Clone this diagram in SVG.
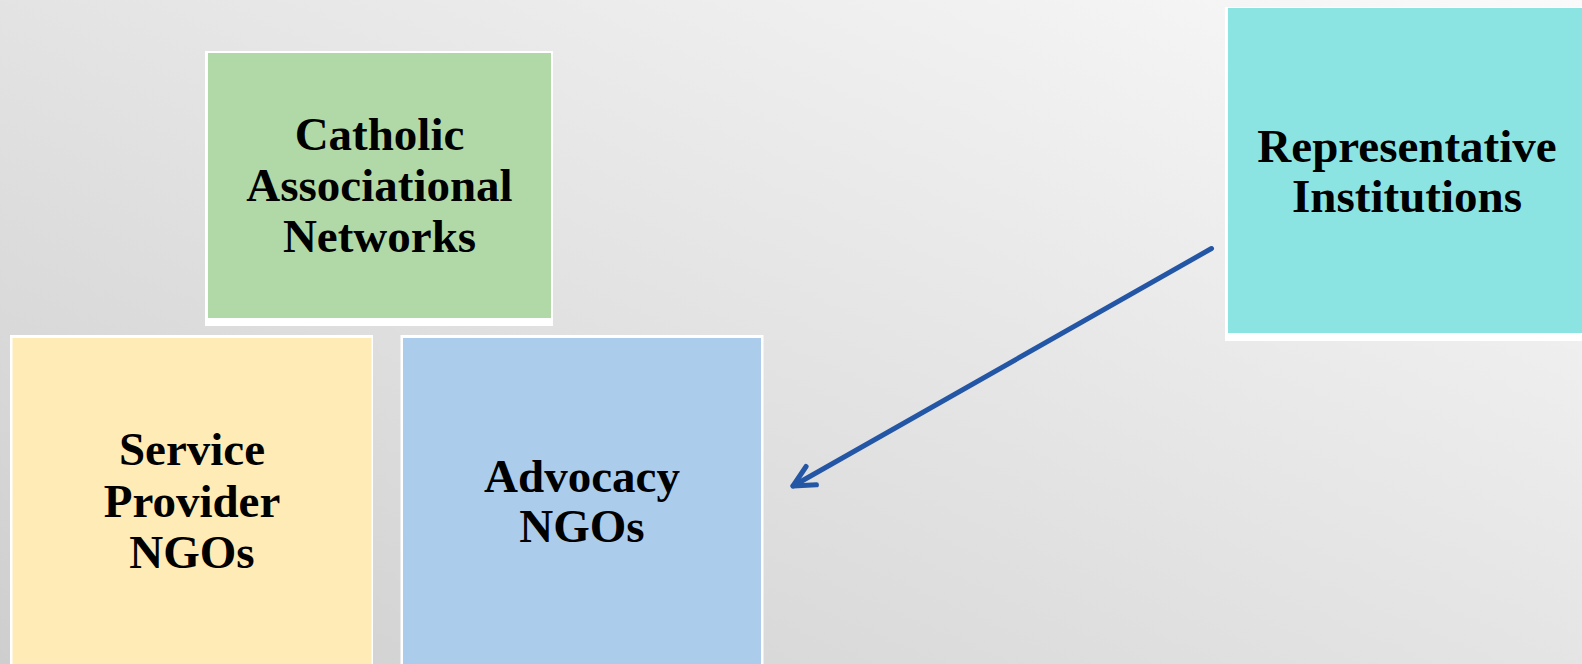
<svg xmlns="http://www.w3.org/2000/svg" width="1582" height="664" viewBox="0 0 1582 664">
  <defs>
    <linearGradient id="bg" gradientUnits="userSpaceOnUse" x1="505" y1="981" x2="1066" y2="-292">
      <stop offset="0" stop-color="#cbcbcb"/>
      <stop offset="1" stop-color="#fcfcfc"/>
    </linearGradient>
    <marker id="arrow" markerUnits="userSpaceOnUse" viewBox="-26 -16 32 32" refX="0" refY="0" markerWidth="32" markerHeight="32" orient="auto">
      <path d="M-21,-10.5 L0,0 L-21,10.5" fill="none" stroke="#2456a6" stroke-width="5" stroke-linecap="round" stroke-linejoin="round"/>
    </marker>
    <style>
      .frame { fill: #ffffff; }
      .lbl { font-family: "Liberation Serif", "Times New Roman", serif; font-weight: bold; font-size: 47px; fill: #000000; text-anchor: middle; }
      .conn { fill: none; stroke: #2456a6; stroke-width: 5; stroke-linecap: round; }
    </style>
  </defs>
  <rect x="0" y="0" width="1582" height="664" fill="url(#bg)"/>

  <g id="node-catholic">
    <rect class="frame" x="205" y="51" width="348" height="275"/>
    <rect x="208" y="53" width="343" height="265" fill="#b1d9a8"/>
    <text class="lbl" x="379.5" y="150">Catholic</text>
    <text class="lbl" x="379.5" y="201">Associational</text>
    <text class="lbl" x="379.5" y="252">Networks</text>
  </g>

  <g id="node-service">
    <rect class="frame" x="10" y="335" width="363" height="340"/>
    <rect x="12.5" y="338" width="359" height="337" fill="#ffebb5"/>
    <text class="lbl" x="192" y="465">Service</text>
    <text class="lbl" x="192" y="517">Provider</text>
    <text class="lbl" x="192" y="568">NGOs</text>
  </g>

  <g id="node-advocacy">
    <rect class="frame" x="400.5" y="335" width="363" height="340"/>
    <rect x="403" y="338" width="358" height="337" fill="#abcdeb"/>
    <text class="lbl" x="582" y="492">Advocacy</text>
    <text class="lbl" x="582" y="542">NGOs</text>
  </g>

  <g id="node-representative">
    <rect class="frame" x="1225" y="7" width="370" height="334"/>
    <rect x="1228" y="8" width="367" height="325" fill="#8be4e2"/>
    <text class="lbl" x="1407" y="162">Representative</text>
    <text class="lbl" x="1407" y="212">Institutions</text>
  </g>

  <g id="connectors">
    <line class="conn" x1="1211.5" y1="248.5" x2="793" y2="486" marker-end="url(#arrow)"/>
  </g>
</svg>
